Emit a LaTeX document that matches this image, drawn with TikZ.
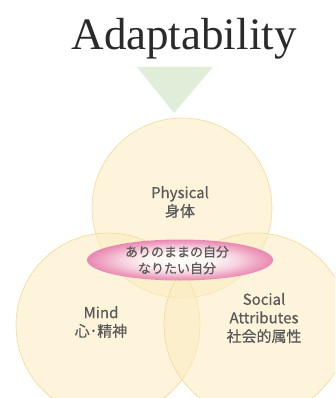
\documentclass[tikz,border=0pt]{standalone}
\usepackage{fontspec}
\setmainfont{Liberation Serif}
\newfontfamily\jp[FakeBold=0.6]{Noto Sans CJK JP}
\usetikzlibrary{shapes.geometric}
\definecolor{pinkc}{HTML}{E77AAE}
\definecolor{circfill}{HTML}{FBEBBE}
\definecolor{circline}{HTML}{F0D68C}
\definecolor{trifill}{HTML}{E0EED9}
\definecolor{labelc}{HTML}{5A5A5A}
\definecolor{titlec}{HTML}{2A2A2A}
\pgfdeclareradialshading{pinkglow}{\pgfpoint{0cm}{0cm}}{color(0bp)=(white); color(9bp)=(white!94!pinkc); color(16bp)=(pinkc!38!white); color(21bp)=(pinkc!75!white); color(25bp)=(pinkc); color(50bp)=(pinkc)}
\begin{document}
\begin{tikzpicture}[x=1pt,y=-1pt,
  venn/.style={circle, minimum size=#1, inner sep=0pt, fill=circfill, fill opacity=0.55, draw=circline, draw opacity=0.9, line width=0.6pt},
  lbl/.style={font=\jp\fontsize{15}{18.5}\selectfont, text=labelc, align=center, inner sep=0pt},
  slbl/.style={font=\jp\fontsize{13}{16.5}\selectfont, text=labelc, align=center, inner sep=0pt}]
\useasboundingbox (0,0) rectangle (335,398);
\clip (0,0) rectangle (335,398);
% title
\node[font=\fontsize{45}{45}\selectfont, text=titlec, anchor=base, inner sep=0pt] (title) at (184,50) {Adaptability};
% arrow triangle
\coordinate (tl) at (137,67);
\coordinate (tr) at (213,67);
\coordinate (tp) at (174,113);
\fill[trifill] (tl) -- (tr) -- (tp) -- cycle;
% circles
\node[venn=180pt] (phys) at (182,208) {};
\node[venn=184pt] (mind) at (108,325) {};
\node[venn=184pt] (soc) at (256,325) {};
% central ellipse
\node[ellipse, minimum width=186pt, minimum height=41pt, inner sep=0pt, shading=pinkglow, opacity=0.88] (self) at (180,260) {};
% labels
\node[lbl] (physl) at (180,202) {Physical\\身体};
\node[lbl] (mindl) at (101,322) {Mind\\心･精神};
\node[lbl] (socl) at (264,318) {Social\\Attributes\\社会的属性};
\node[slbl] (selfl) at (177,260) {ありのままの自分\\なりたい自分};
\end{tikzpicture}
\end{document}
